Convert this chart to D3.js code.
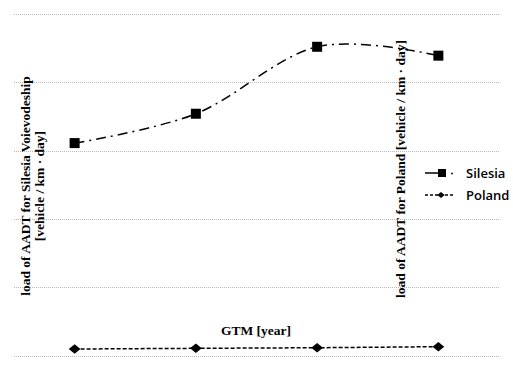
<!DOCTYPE html>
<html>
<head>
<meta charset="utf-8">
<script src="https://cdn.jsdelivr.net/npm/d3@7"></script>
<style>
  body { margin: 0; background: #fff; }
  svg { display: block; }
</style>
</head>
<body>
<svg width="513" height="370"></svg>
<script>
var svg = d3.select("svg"),
    width = +svg.attr("width"),
    height = +svg.attr("height");

// data (no tick labels in the original, units are grid steps)
var periods = ["I", "II", "III", "IV"];
var silesia = [3.11, 3.54, 4.52, 4.39];
var poland = [0.095, 0.105, 0.114, 0.129];
var gridTicks = [0, 1, 2, 3, 4, 5];

var plot = { left: 14, right: 499, top: 14, bottom: 355.5 };
var serif = "'Liberation Serif', 'Times New Roman', 'DejaVu Serif', serif";
var sans = "'Open Sans', 'Noto Sans', sans-serif";

var x = d3.scalePoint()
    .domain(periods)
    .range([plot.left, plot.right])
    .padding(0.5);

var y = d3.scaleLinear()
    .domain([0, 5])
    .range([plot.bottom, plot.top]);

var y2 = d3.scaleLinear()
    .domain([0, 5])
    .range([plot.bottom, plot.top]);

// gridlines
svg.append("g")
  .selectAll("line")
  .data(gridTicks)
  .enter().append("line")
    .attr("x1", plot.left)
    .attr("x2", plot.right)
    .attr("y1", d => Math.round(y(d)) + 0.5)
    .attr("y2", d => Math.round(y(d)) + 0.5)
    .attr("stroke", "#b8b8b8")
    .attr("stroke-width", 1)
    .attr("stroke-dasharray", "1,1");

function title(tx, ty, rot, txt) {
  svg.append("text")
      .attr("transform", "translate(" + tx + "," + ty + ")" + (rot ? " rotate(-90)" : ""))
      .attr("text-anchor", "middle")
      .attr("font-family", serif)
      .attr("font-weight", "bold")
      .attr("font-size", 13.5)
      .attr("fill", "#000")
      .text(txt);
}
title(30, 186, true, "load of AADT for Silesia Voievodeship");
title(44, 186, true, "[vehicle / km · day]");
title(405, 169, true, "load of AADT for Poland [vehicle / km · day]");
title(256, 335, false, "GTM [year]");

// Silesia: smoothed dash-dot line with squares
var lineS = d3.line()
    .x((d, i) => x(periods[i]))
    .y(d => y(d))
    .curve(d3.curveCatmullRom.alpha(0));

svg.append("path")
    .datum(silesia)
    .attr("d", lineS)
    .attr("fill", "none")
    .attr("stroke", "#000")
    .attr("stroke-width", 1.5)
    .attr("stroke-dasharray", "10,5,2,5");

svg.append("g")
  .selectAll("rect")
  .data(silesia)
  .enter().append("rect")
    .attr("x", (d, i) => x(periods[i]) - 5)
    .attr("y", d => y(d) - 5)
    .attr("width", 10)
    .attr("height", 10)
    .attr("fill", "#000");

// Poland: dashed line with diamonds
var lineP = d3.line()
    .x((d, i) => x(periods[i]))
    .y(d => y2(d));

svg.append("path")
    .datum(poland)
    .attr("d", lineP)
    .attr("fill", "none")
    .attr("stroke", "#000")
    .attr("stroke-width", 1.5)
    .attr("stroke-dasharray", "4,2");

var diamond = d3.symbol().type(d3.symbolDiamond2).size(72);
svg.append("g")
  .selectAll("path")
  .data(poland)
  .enter().append("path")
    .attr("d", diamond)
    .attr("transform", (d, i) => "translate(" + x(periods[i]) + "," + y2(d) + ") scale(1.1,0.9)")
    .attr("fill", "#000");

// legend
var leg = svg.append("g").attr("transform", "translate(425,0)");
leg.append("line")
    .attr("x1", 0).attr("x2", 14).attr("y1", 173).attr("y2", 173)
    .attr("stroke", "#000").attr("stroke-width", 1.5);
leg.append("rect")
    .attr("x", 13).attr("y", 169).attr("width", 8).attr("height", 8).attr("fill", "#000");
leg.append("circle")
    .attr("cx", 27).attr("cy", 173.5).attr("r", 0.9).attr("fill", "#000");
leg.append("text")
    .attr("x", 41).attr("y", 178)
    .attr("font-family", sans)
    .attr("font-weight", 600)
    .attr("font-size", 13)
    .attr("fill", "#000")
    .text("Silesia");

leg.append("line")
    .attr("x1", 0).attr("x2", 29).attr("y1", 195).attr("y2", 195)
    .attr("stroke", "#000").attr("stroke-width", 1.3)
    .attr("stroke-dasharray", "3,2");
leg.append("path")
    .attr("d", d3.symbol().type(d3.symbolDiamond2).size(30))
    .attr("transform", "translate(16,195) scale(1.1,0.9)")
    .attr("fill", "#000");
leg.append("text")
    .attr("x", 41).attr("y", 200)
    .attr("font-family", sans)
    .attr("font-weight", 600)
    .attr("font-size", 13)
    .attr("fill", "#000")
    .text("Poland");
</script>
</body>
</html>
